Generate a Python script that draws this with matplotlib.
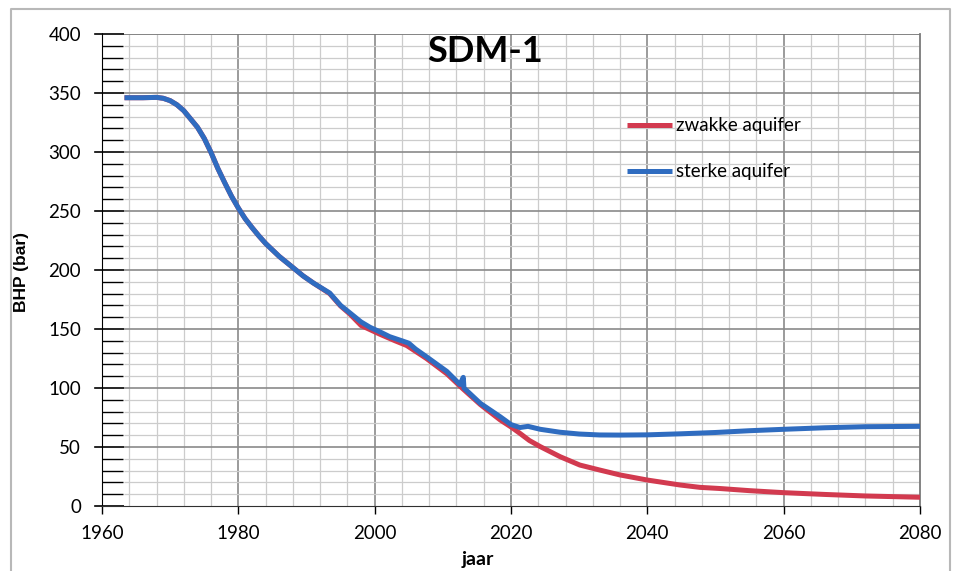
#!/usr/bin/env python3
"""
BHP decline for well SDM-1, weak vs strong aquifer scenario
"""

import matplotlib

matplotlib.use("Agg")
import matplotlib.pyplot as plt
import matplotlib.transforms as mtransforms
from matplotlib.lines import Line2D

# Strong aquifer (blue)
sterk_jaar = [1963.3, 1966, 1968, 1969, 1970, 1971, 1972, 1973, 1974, 1975,
              1976, 1977, 1978, 1979, 1980, 1981, 1982, 1983, 1984, 1985,
              1986, 1987.6, 1989.5, 1991, 1993.4, 1995, 1996.4, 1998, 1999.3,
              2000.8, 2002.2, 2004, 2005, 2006, 2007.6, 2010.6, 2012.5,
              2013.0, 2013.1, 2015.5, 2018.4, 2020, 2021.3, 2022.5, 2024.3,
              2027.2, 2030, 2033, 2036, 2040, 2045, 2050, 2055, 2060, 2066,
              2072, 2080]
sterk_bhp = [346, 346, 346.3, 345.5, 343.5, 340, 335, 328, 321, 311.5,
             299.5, 286, 274, 262.5, 252.5, 243.5, 236, 229, 222.5, 217,
             211.5, 204, 195, 189, 180.5, 170, 163.5, 156, 151.5,
             147.5, 143.5, 140, 138, 133, 126.5, 114, 103,
             109, 100, 87, 75.7, 69, 66.5, 67.5, 65,
             62.5, 61, 60.2, 60.1, 60.3, 61.2, 62.3, 63.8, 65, 66.3,
             67.2, 67.5]

# Weak aquifer (red)
zwak_jaar = [1963.3, 1966, 1968, 1969, 1970, 1971, 1972, 1973, 1974, 1975,
             1976, 1977, 1978, 1979, 1980, 1981, 1982, 1983, 1984, 1985,
             1986, 1987.6, 1989.5, 1991, 1993.4, 1995, 1996.4, 1998,
             2000.8, 2003, 2004.7, 2007.6, 2010.6, 2013, 2015.5, 2018.4,
             2020, 2021.3, 2022.7, 2024.3, 2027.2, 2030.1, 2033, 2036, 2040,
             2044.8, 2047.7, 2050.7, 2055, 2060, 2066, 2072, 2080]
zwak_bhp = [346, 346, 346.3, 345.5, 343.5, 340, 335, 328, 321, 311.5,
            299.5, 286, 274, 262.5, 252.5, 243.5, 236, 229, 222.5, 217,
            211.5, 204, 195, 189, 180, 169.5, 162.5, 153,
            145.5, 140, 136, 125, 112, 99, 86, 73,
            67, 61.6, 55.5, 50.3, 41.8, 34.7, 30.5, 26.3, 22,
            17.8, 15.8, 14.8, 13, 11.3, 9.8, 8.5, 7.4]

x_ticks = [1960, 1980, 2000, 2020, 2040, 2060, 2080]
y_ticks = [0, 50, 100, 150, 200, 250, 300, 350, 400]

BLUE = "#2f6cc0"
RED = "#d23a4f"
FONT = ["Lato", "DejaVu Sans"]


def draw_grid(ax, x0):
    """Excel style grid, starting a bit right of the y axis"""
    for yr in range(1964, 2080, 4):
        major = yr % 20 == 0
        ax.vlines(yr, 0, 400, color="#8a8a8a" if major else "#cccccc",
                  lw=1.2 if major else 0.9, zorder=1)
    for v in range(10, 400, 10):
        major = v % 50 == 0
        ax.hlines(v, x0, 2080, color="#8a8a8a" if major else "#cccccc",
                  lw=1.2 if major else 0.9, zorder=1)
    ax.hlines(400, x0, 2080, color="#7a7a7a", lw=1.3, zorder=1)


def main():
    fig = plt.figure(figsize=(9.54, 5.71), dpi=100)
    ax = fig.add_axes([102 / 954, 1 - 506 / 571, 818 / 954, 472 / 571])

    ax.set_xlim(1960, 2080)
    ax.set_ylim(0, 400)

    draw_grid(ax, 1963.3)

    ax.plot(zwak_jaar, zwak_bhp, color=RED, lw=3.6, solid_capstyle="butt",
            solid_joinstyle="round", label="zwakke aquifer", zorder=3)
    ax.plot(sterk_jaar, sterk_bhp, color=BLUE, lw=3.6, solid_capstyle="butt",
            solid_joinstyle="round", label="sterke aquifer", zorder=4)

    # spines
    ax.spines["left"].set_color("black")
    ax.spines["bottom"].set_color("#303030")
    ax.spines["top"].set_visible(False)
    ax.spines["right"].set_color("#7a7a7a")
    ax.spines["right"].set_linewidth(1.3)

    # ticks
    ax.set_xticks(x_ticks)
    ax.set_yticks(y_ticks)
    ax.set_yticks(range(0, 400, 10), minor=True)
    ax.tick_params(axis="x", which="major", direction="out", length=6,
                   width=1, pad=8, labelsize=13.5)
    ax.tick_params(axis="y", which="major", direction="in", length=16,
                   width=1.2, pad=15, labelsize=13.5)
    ax.tick_params(axis="y", which="minor", direction="in", length=15, width=1)
    for lab in ax.get_xticklabels() + ax.get_yticklabels():
        lab.set_family(FONT)

    # short outer stubs of the y major ticks
    trans = mtransforms.blended_transform_factory(ax.transAxes, ax.transData)
    for v in y_ticks:
        ax.plot([-0.008, 0], [v, v], color="black", lw=1.2, transform=trans,
                clip_on=False)

    ax.text(0.468, 0.962, "SDM-1", transform=ax.transAxes, ha="center",
            va="center", fontsize=26, fontweight="bold", family=FONT)

    leg = ax.legend(loc="upper left", bbox_to_anchor=(0.642, 0.824),
                    frameon=False, borderpad=0, borderaxespad=0,
                    handlelength=2.4, handletextpad=0.2, labelspacing=1.55,
                    prop={"family": FONT, "size": 13.5})
    for h in leg.get_lines():
        h.set_linewidth(3.6)

    fig.text(22 / 954, 1 - 272 / 571, "BHP (bar)", rotation=90, ha="center",
             va="center", fontsize=12.5, fontweight="bold",
             family="Liberation Sans")
    fig.text(478 / 954, 1 - 559 / 571, "jaar", ha="center", va="center",
             fontsize=14, fontweight="bold", family=FONT)

    # chart border
    fig.add_artist(Line2D([11 / 954, 11 / 954, 950 / 954, 950 / 954],
                          [0, 1 - 9 / 571, 1 - 9 / 571, 0],
                          color="#b8b8b8", lw=1.5))

    fig.savefig("out.png", dpi=100)
    print("saved out.png")


if __name__ == "__main__":
    main()
